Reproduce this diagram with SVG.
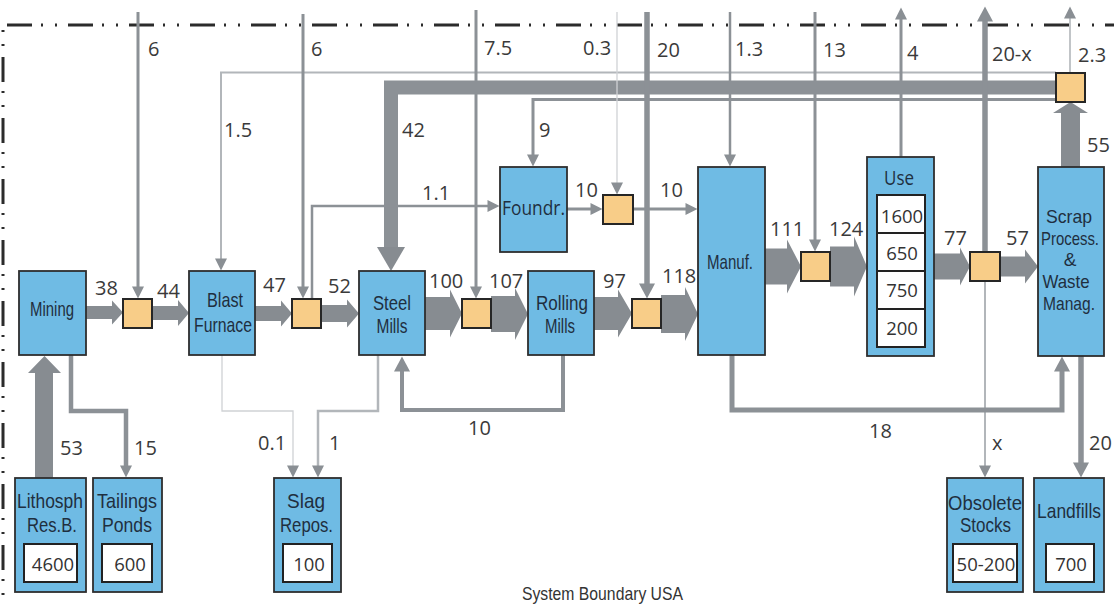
<svg xmlns="http://www.w3.org/2000/svg" width="1114" height="606" viewBox="0 0 1114 606">
<defs>
<marker id="a" markerUnits="userSpaceOnUse" markerWidth="13" markerHeight="12" refX="0.5" refY="6" orient="auto" overflow="visible"><path d="M0,0 L12,6 L0,12 z" fill="#8a8f94"/></marker>
<marker id="b" markerUnits="userSpaceOnUse" markerWidth="16" markerHeight="16" refX="0.5" refY="8" orient="auto" overflow="visible"><path d="M0,0 L15,8 L0,16 z" fill="#8a8f94"/></marker>
<style>
.bd{fill:none;stroke:#2b2b2b;stroke-width:3;stroke-dasharray:25 9 2 12 2 11}
.ln{fill:none;stroke:#8c9196;stroke-linejoin:miter}
.lt{fill:none;stroke:#b2b6ba}
.vl{fill:none;stroke:#cfd2d5}
.blk{fill:#878c91}
.nd{fill:#6fbbe4;stroke:#2e2e2e;stroke-width:1.8}
.or{fill:#f8cd88;stroke:#262626;stroke-width:2}
.in{fill:#ffffff;stroke:#222;stroke-width:2}
.num{font-family:"Open Sans","Noto Sans",sans-serif;font-size:20px;fill:#3a3a3a}
.lab{font-family:"Liberation Sans",Arial,sans-serif;font-size:21px;fill:#1f2f3f;text-anchor:middle}
.sm{font-family:"Liberation Sans",Arial,sans-serif;font-size:19px;fill:#1f2f3f;text-anchor:middle}
.hum{font-family:"Open Sans","Noto Sans",sans-serif;font-size:20px;fill:#1f2f3f;text-anchor:middle}
.val{font-family:"Open Sans","Noto Sans",sans-serif;font-size:18.5px;fill:#333;text-anchor:middle}
</style>
</defs>
<rect width="1114" height="606" fill="#ffffff"/>
<g id="boundary">
<line class="bd" x1="7" y1="25" x2="1114" y2="25"/>
<line class="bd" x1="3" y1="28" x2="3" y2="606" stroke-dashoffset="32"/>
<text x="522" y="600" font-family="Liberation Sans,Arial,sans-serif" font-size="19" fill="#333" textLength="161" lengthAdjust="spacingAndGlyphs">System Boundary USA</text>
</g>
<g id="connectors">
<path class="lt" stroke-width="2" d="M1056 72.5 H221 V259" marker-end="url(#a)"/>
<path class="ln" stroke-width="3" d="M1056 99.5 H533 V155" marker-end="url(#a)"/>
<path class="ln" stroke-width="14" d="M1056 87.5 H391 V248"/>
<polygon class="blk" points="377,247 405,247 391,271"/>
<path class="ln" stroke-width="3" d="M138 12 V287" marker-end="url(#a)"/>
<path class="ln" stroke-width="3" d="M303 14 V287" marker-end="url(#a)"/>
<path class="ln" stroke-width="3" d="M476 10 V287" marker-end="url(#a)"/>
<path class="vl" stroke-width="1.3" d="M617 12 V183" marker-end="url(#a)"/>
<path class="ln" stroke-width="5.5" d="M647 12 V284" marker-end="url(#b)"/>
<path class="ln" stroke-width="2.5" d="M730 12 V155" marker-end="url(#a)"/>
<path class="ln" stroke-width="3" d="M815 12 V240" marker-end="url(#a)"/>
<path class="ln" stroke-width="3" d="M901 157 V19" marker-end="url(#a)"/>
<path class="ln" stroke-width="5.5" d="M985 252 V21" marker-end="url(#b)"/>
<path class="lt" stroke-width="1.6" d="M1070 73 V18" marker-end="url(#a)"/>
<path class="lt" stroke-width="2" stroke="#a3a8ad" d="M985 281 V466" marker-end="url(#a)"/>
<path class="ln" stroke-width="5.5" d="M1081 356 V463" marker-end="url(#b)"/>
<path class="ln" stroke-width="5" d="M732 355 V410 H1062 V371" marker-end="url(#b)"/>
<path class="ln" stroke-width="4" d="M563 355 V410 H402 V371" marker-end="url(#b)"/>
<path class="ln" stroke-width="4.5" d="M71 355 V411 H126 V466" marker-end="url(#a)"/>
<path class="vl" stroke-width="1.3" d="M222 355 V411 H293 V466" marker-end="url(#a)"/>
<path class="lt" stroke-width="2.5" d="M378 355 V411 H318 V466" marker-end="url(#a)"/>
<path class="ln" stroke-width="2.5" d="M312 299 V206 H488" marker-end="url(#a)"/>
<path class="ln" stroke-width="3" d="M567 209 H591" marker-end="url(#a)"/>
<path class="ln" stroke-width="3" d="M633 209 H686" marker-end="url(#a)"/>
<polygon class="blk" points="86,306 112,306 112,300.5 123,312.5 112,324.5 112,319 86,319"/>
<polygon class="blk" points="152,306 178,306 178,300 189,313 178,326 178,320 152,320"/>
<polygon class="blk" points="255,306 281,306 281,300.5 292,313.5 281,326.5 281,321 255,321"/>
<polygon class="blk" points="321,305 347,305 347,299.5 359,313.5 347,327.5 347,322 321,322"/>
<polygon class="blk" points="425,297 450,297 450,289.5 462,313.5 450,337.5 450,330 425,330"/>
<polygon class="blk" points="491,296 515,296 515,288 528,314 515,340 515,332 491,332"/>
<polygon class="blk" points="594,297 618,297 618,289.5 632,313.5 618,337.5 618,330 594,330"/>
<polygon class="blk" points="661,295 685,295 685,287 698,314 685,341 685,333 661,333"/>
<polygon class="blk" points="765,248.5 787,248.5 787,239.5 801,266.5 787,293.5 787,284.5 765,284.5"/>
<polygon class="blk" points="830,246.5 854,246.5 854,236.5 867,266.5 854,296.5 854,286.5 830,286.5"/>
<polygon class="blk" points="934,253.5 960,253.5 960,247.5 970,266.5 960,285.5 960,279.5 934,279.5"/>
<polygon class="blk" points="1000,256.5 1025,256.5 1025,249.5 1038,266.5 1025,283.5 1025,276.5 1000,276.5"/>
<polygon class="blk" points="1061,167 1061,113 1053,113 1070.5,102 1088,113 1080,113 1080,167"/>
<polygon class="blk" points="35,478 35,373 28,373 44.5,356 61,373 53,373 53,478"/>
<g class="num">
<text x="148" y="56">6</text>
<text x="311" y="56">6</text>
<text x="484" y="55">7.5</text>
<text x="583" y="55">0.3</text>
<text x="657" y="57">20</text>
<text x="735" y="56">1.3</text>
<text x="823" y="57">13</text>
<text x="907" y="60">4</text>
<text x="992" y="61">20-x</text>
<text x="1078" y="62">2.3</text>
<text x="224" y="137">1.5</text>
<text x="402" y="137">42</text>
<text x="539" y="137">9</text>
<text x="1087" y="152">55</text>
<text x="422" y="200">1.1</text>
<text x="575" y="197">10</text>
<text x="660" y="197">10</text>
<text x="95" y="295">38</text>
<text x="157" y="298">44</text>
<text x="263" y="292">47</text>
<text x="328" y="293">52</text>
<text x="429" y="288">100</text>
<text x="489" y="288">107</text>
<text x="603" y="288">97</text>
<text x="662" y="283">118</text>
<text x="770" y="236">111</text>
<text x="829" y="236">124</text>
<text x="944" y="245">77</text>
<text x="1006" y="245">57</text>
<text x="468" y="435">10</text>
<text x="869" y="438">18</text>
<text x="60" y="455">53</text>
<text x="134" y="455">15</text>
<text x="258" y="450">0.1</text>
<text x="329" y="450">1</text>
<text x="992" y="450">x</text>
<text x="1089" y="450">20</text>
</g>
</g>
<g id="mix1"><rect class="or" x="123" y="299" width="29" height="29"/></g>
<g id="mix2"><rect class="or" x="292" y="299" width="29" height="29"/></g>
<g id="mix3"><rect class="or" x="462" y="299" width="29" height="29"/></g>
<g id="mix4"><rect class="or" x="632" y="299" width="29" height="29"/></g>
<g id="mix-foundry"><rect class="or" x="603" y="195" width="30" height="29"/></g>
<g id="mix5"><rect class="or" x="801" y="252" width="29" height="29"/></g>
<g id="mix6"><rect class="or" x="970" y="252" width="30" height="29"/></g>
<g id="mix-scrap"><rect class="or" x="1056" y="73" width="29" height="29"/></g>
<g id="mining"><rect class="nd" x="19" y="271" width="67" height="84"/>
<text class="lab" x="52" y="316" textLength="44" lengthAdjust="spacingAndGlyphs">Mining</text></g>
<g id="blast-furnace"><rect class="nd" x="189" y="271" width="66" height="84"/>
<text class="lab" x="225" y="307" textLength="36" lengthAdjust="spacingAndGlyphs">Blast</text>
<text class="lab" x="223" y="332" textLength="58" lengthAdjust="spacingAndGlyphs">Furnace</text></g>
<g id="steel-mills"><rect class="nd" x="359" y="271" width="66" height="84"/>
<text class="lab" x="392" y="310" textLength="38" lengthAdjust="spacingAndGlyphs">Steel</text>
<text class="lab" x="392" y="333" textLength="31" lengthAdjust="spacingAndGlyphs">Mills</text></g>
<g id="rolling-mills"><rect class="nd" x="528" y="271" width="66" height="84"/>
<text class="lab" x="562" y="310" textLength="52" lengthAdjust="spacingAndGlyphs">Rolling</text>
<text class="lab" x="560" y="333" textLength="30" lengthAdjust="spacingAndGlyphs">Mills</text></g>
<g id="foundry"><rect class="nd" x="500" y="167" width="67" height="85"/>
<text class="hum" x="533.5" y="215" textLength="63" lengthAdjust="spacingAndGlyphs">Foundr.</text></g>
<g id="manufacturing"><rect class="nd" x="698" y="167" width="67" height="188"/>
<text class="lab" x="730" y="269" textLength="46" lengthAdjust="spacingAndGlyphs">Manuf.</text></g>
<g id="use"><rect class="nd" x="867" y="157" width="67" height="199"/>
<text class="hum" x="899" y="185" textLength="30" lengthAdjust="spacingAndGlyphs">Use</text>
<rect class="in" x="877" y="195" width="48" height="38"/>
<rect class="in" x="877" y="233" width="48" height="38"/>
<rect class="in" x="877" y="271" width="48" height="38"/>
<rect class="in" x="877" y="309" width="48" height="38"/>
<text class="val" x="902" y="223">1600</text>
<text class="val" x="902" y="260">650</text>
<text class="val" x="902" y="297">750</text>
<text class="val" x="902" y="335">200</text></g>
<g id="scrap-processing"><rect class="nd" x="1038" y="167" width="66" height="189"/>
<text class="sm" x="1069" y="223" textLength="46" lengthAdjust="spacingAndGlyphs">Scrap</text>
<text class="sm" x="1070" y="245" textLength="58" lengthAdjust="spacingAndGlyphs">Process.</text>
<text class="sm" x="1070" y="266">&amp;</text>
<text class="sm" x="1066" y="288" textLength="47" lengthAdjust="spacingAndGlyphs">Waste</text>
<text class="sm" x="1069" y="310" textLength="52" lengthAdjust="spacingAndGlyphs">Manag.</text></g>
<g id="lithosphere"><rect class="nd" x="15" y="478" width="71" height="114"/>
<text class="lab" x="50" y="508" textLength="66" lengthAdjust="spacingAndGlyphs">Lithosph</text>
<text class="lab" x="52" y="532" textLength="50" lengthAdjust="spacingAndGlyphs">Res.B.</text>
<rect class="in" x="24" y="544" width="53" height="38"/>
<text class="val" x="53" y="571">4600</text></g>
<g id="tailings"><rect class="nd" x="93" y="478" width="69" height="114"/>
<text class="lab" x="127" y="508" textLength="60" lengthAdjust="spacingAndGlyphs">Tailings</text>
<text class="lab" x="127" y="532" textLength="50" lengthAdjust="spacingAndGlyphs">Ponds</text>
<rect class="in" x="102" y="544" width="50" height="38"/>
<text class="val" x="130" y="571">600</text></g>
<g id="slag"><rect class="nd" x="274" y="478" width="67" height="114"/>
<text class="lab" x="306" y="508" textLength="38" lengthAdjust="spacingAndGlyphs">Slag</text>
<text class="lab" x="306.5" y="532" textLength="53" lengthAdjust="spacingAndGlyphs">Repos.</text>
<rect class="in" x="283" y="544" width="49" height="38"/>
<text class="val" x="309" y="571">100</text></g>
<g id="obsolete-stocks"><rect class="nd" x="947" y="478" width="76" height="114"/>
<text class="lab" x="985" y="510" textLength="74" lengthAdjust="spacingAndGlyphs">Obsolete</text>
<text class="lab" x="985.5" y="532" textLength="51" lengthAdjust="spacingAndGlyphs">Stocks</text>
<rect class="in" x="953" y="544" width="64" height="38"/>
<text class="val" x="986" y="571">50-200</text></g>
<g id="landfills"><rect class="nd" x="1034" y="478" width="70" height="114"/>
<text class="lab" x="1069" y="518" textLength="64" lengthAdjust="spacingAndGlyphs">Landfills</text>
<rect class="in" x="1046" y="544" width="48" height="38"/>
<text class="val" x="1071" y="571">700</text></g>
</svg>
